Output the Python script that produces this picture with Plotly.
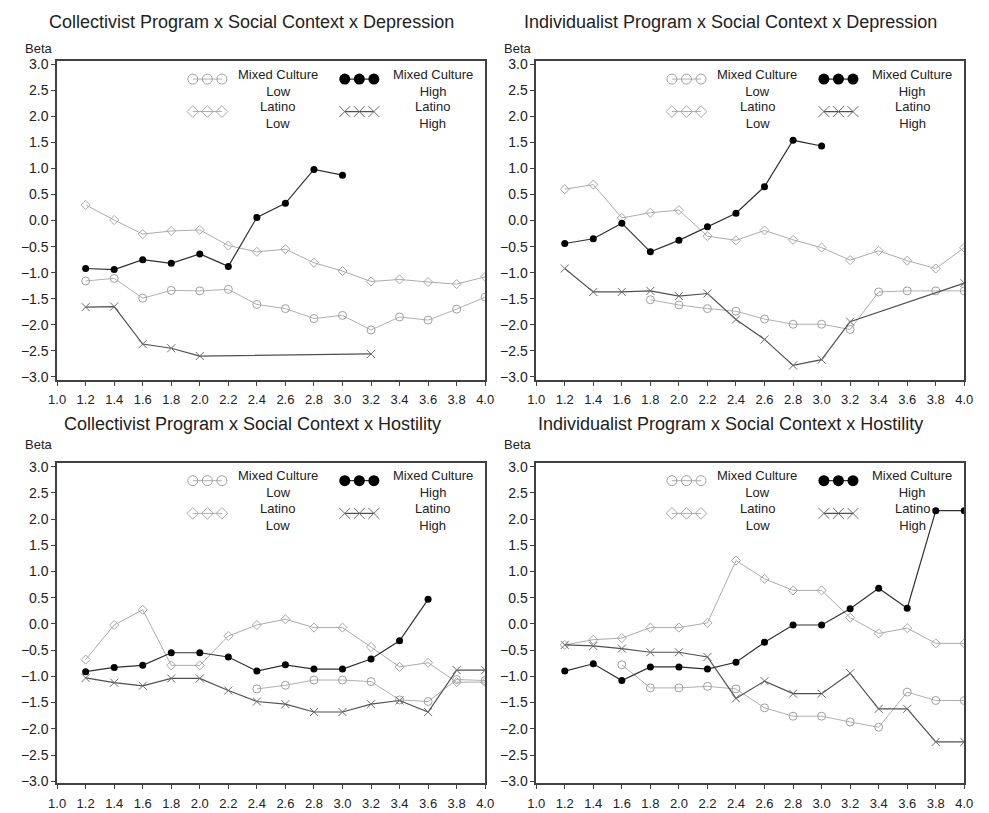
import plotly.graph_objects as go

# ---------------- data ----------------
X_VALUES = [1.2, 1.4, 1.6, 1.8, 2.0, 2.2, 2.4, 2.6, 2.8, 3.0, 3.2, 3.4, 3.6, 3.8, 4.0]
X_TICKS = [1.0, 1.2, 1.4, 1.6, 1.8, 2.0, 2.2, 2.4, 2.6, 2.8, 3.0, 3.2, 3.4, 3.6, 3.8, 4.0]
Y_TICKS = [-3.0, -2.5, -2.0, -1.5, -1.0, -0.5, 0.0, 0.5, 1.0, 1.5, 2.0, 2.5, 3.0]

TITLES = [
    "Collectivist Program x Social Context x Depression",
    "Individualist Program x Social Context x Depression",
    "Collectivist Program x Social Context x Hostility",
    "Individualist Program x Social Context x Hostility",
]
SERIES_NAMES = ["Mixed Culture<br>Low", "Latino<br>Low", "Mixed Culture<br>High", "Latino<br>High"]

# Collectivist x Depression
CD_mixed_low = [-1.16, -1.11, -1.49, -1.34, -1.35, -1.32, -1.61, -1.69, -1.88, -1.82, -2.10, -1.85, -1.91, -1.70, -1.47]
CD_latino_low = [0.30, 0.01, -0.26, -0.20, -0.18, -0.48, -0.60, -0.55, -0.81, -0.97, -1.17, -1.13, -1.18, -1.22, -1.08]
CD_mixed_high = [-0.92, -0.94, -0.75, -0.82, -0.64, -0.88, 0.06, 0.33, 0.98, 0.87, None, None, None, None, None]
CD_latino_high = [-1.66, -1.65, -2.37, -2.45, -2.60, None, None, None, None, None, -2.56, None, None, None, None]

# Individualist x Depression
ID_mixed_low = [None, None, None, -1.52, -1.62, -1.69, -1.74, -1.89, -1.99, -1.99, -2.09, -1.37, -1.35, -1.35, -1.35]
ID_latino_low = [0.60, 0.69, 0.05, 0.15, 0.20, -0.30, -0.38, -0.19, -0.37, -0.52, -0.76, -0.58, -0.77, -0.92, -0.52]
ID_mixed_high = [-0.44, -0.35, -0.05, -0.60, -0.38, -0.12, 0.14, 0.65, 1.54, 1.43, None, None, None, None, None]
ID_latino_high = [-0.92, -1.37, -1.37, -1.35, -1.45, -1.40, -1.90, -2.28, -2.78, -2.67, -1.94, None, None, None, -1.20]

# Collectivist x Hostility
CH_mixed_low = [None, None, None, None, None, None, -1.24, -1.17, -1.07, -1.07, -1.10, -1.45, -1.48, -1.06, -1.08]
CH_latino_low = [-0.68, -0.02, 0.27, -0.79, -0.79, -0.23, -0.02, 0.09, -0.07, -0.07, -0.44, -0.82, -0.74, -1.11, -1.11]
CH_mixed_high = [-0.91, -0.83, -0.79, -0.55, -0.55, -0.63, -0.90, -0.78, -0.86, -0.86, -0.67, -0.32, 0.47, None, None]
CH_latino_high = [-1.03, -1.12, -1.18, -1.04, -1.04, -1.27, -1.48, -1.53, -1.68, -1.68, -1.53, -1.46, -1.68, -0.88, -0.88]

# Individualist x Hostility
IH_mixed_low = [None, None, -0.78, -1.22, -1.22, -1.19, -1.24, -1.60, -1.76, -1.76, -1.87, -1.97, -1.30, -1.46, -1.46]
IH_latino_low = [-0.40, -0.30, -0.27, -0.07, -0.07, 0.02, 1.21, 0.86, 0.64, 0.64, 0.12, -0.18, -0.08, -0.37, -0.37]
IH_mixed_high = [-0.90, -0.76, -1.08, -0.82, -0.82, -0.86, -0.73, -0.35, -0.02, -0.02, 0.29, 0.68, 0.30, 2.16, 2.16]
IH_latino_high = [-0.40, -0.42, -0.47, -0.54, -0.54, -0.63, -1.42, -1.09, -1.33, -1.33, -0.94, -1.62, -1.62, -2.25, -2.25]

PANELS = [
    [CD_mixed_low, CD_latino_low, CD_mixed_high, CD_latino_high],
    [ID_mixed_low, ID_latino_low, ID_mixed_high, ID_latino_high],
    [CH_mixed_low, CH_latino_low, CH_mixed_high, CH_latino_high],
    [IH_mixed_low, IH_latino_low, IH_mixed_high, IH_latino_high],
]

# ---------------- styles ----------------
W, H = 989, 813
FONT = "Liberation Sans, Arial, sans-serif"
STYLES = [
    dict(line=dict(color="#b0b0b0", width=1),
         marker=dict(symbol="circle-open", size=8, color="#a0a0a0", line=dict(width=1))),
    dict(line=dict(color="#ababab", width=1),
         marker=dict(symbol="diamond-open", size=7, color="#a8a8a8", line=dict(width=1))),
    dict(line=dict(color="#303030", width=1.2),
         marker=dict(symbol="circle", size=7, color="#000000")),
    dict(line=dict(color="#505050", width=1.2),
         marker=dict(symbol="x-thin-open", size=8, color="#6a6a6a", line=dict(width=1, color="#6a6a6a"))),
]
LEGEND_MARKER_SIZE = [10, 9, 11, 11]
DRAW_ORDER = [0, 1, 3, 2]

# pixel boxes of plot areas (left, right, top, bottom)
BOXES = [(49, 485, 57, 380), (537, 973, 57, 380), (49, 485, 464, 789), (537, 973, 464, 789)]
Y_RANGES = [(-3.057, 3.057), (-3.057, 3.057), (-3.04, 3.075), (-3.04, 3.075)]
TITLE_POS = [(247, 17), (735, 17), (248, 425), (735, 425)]
BETA_POS = [(14, 44), (502, 44), (14, 446), (502, 446)]

# legend layout in axis-domain fractions
LEG_X = [0.317, 0.317, 0.672, 0.672]
LEG_DX = 0.034
LEG_Y = [0.944, 0.842, 0.944, 0.842]
LEG_TXT_X = [0.516, 0.516, 0.878, 0.878]
LEG_TXT_Y = [0.933, 0.830, 0.933, 0.830]

fig = go.Figure()
layout = dict(
    width=W, height=H, margin=dict(l=0, r=0, t=0, b=0),
    paper_bgcolor="white", plot_bgcolor="white", showlegend=False,
    font=dict(family=FONT, color="#222222"),
)
annotations = []

for p in range(4):
    L, R, T, B = BOXES[p]
    xd = [L / W, R / W]
    yd = [1 - B / H, 1 - T / H]
    ax = "" if p == 0 else str(p + 1)
    ox = str(p + 5)
    axis_common = dict(showline=True, mirror=True, linecolor="#404040", linewidth=1.5,
                       ticks="outside", ticklen=4, tickcolor="#404040", tickwidth=1,
                       showgrid=False, zeroline=False)
    layout["xaxis" + ax] = dict(domain=xd, range=[1.0, 4.0], tickvals=X_TICKS, tickformat=".1f",
                                anchor="y" + ax, tickfont=dict(size=13, family=FONT, color="#222"),
                                ticklabelstandoff=3, **axis_common)
    layout["yaxis" + ax] = dict(domain=yd, range=list(Y_RANGES[p]), tickvals=Y_TICKS, tickformat=".1f",
                                anchor="x" + ax, tickfont=dict(size=14, family=FONT, color="#222"),
                                **axis_common)
    # overlay axes for legend glyphs
    layout["xaxis" + ox] = dict(overlaying="x" + ax, range=[0, 1], visible=False, anchor="y" + ox)
    layout["yaxis" + ox] = dict(overlaying="y" + ax, range=[0, 1], visible=False, anchor="x" + ox)

    for s in DRAW_ORDER:
        st = STYLES[s]
        fig.add_trace(go.Scatter(x=X_VALUES, y=PANELS[p][s], mode="lines+markers",
                                 connectgaps=True, line=st["line"], marker=st["marker"],
                                 xaxis="x" + ax, yaxis="y" + ax, hoverinfo="skip"))
    # legend glyphs
    for s in range(4):
        st = STYLES[s]
        mk = dict(st["marker"])
        mk["size"] = LEGEND_MARKER_SIZE[s]
        fig.add_trace(go.Scatter(x=[LEG_X[s], LEG_X[s] + LEG_DX, LEG_X[s] + 2 * LEG_DX],
                                 y=[LEG_Y[s]] * 3, mode="lines+markers", line=st["line"], marker=mk,
                                 xaxis="x" + ox, yaxis="y" + ox, hoverinfo="skip", cliponaxis=False))
        annotations.append(dict(text=SERIES_NAMES[s], xref="x" + ax + " domain", yref="y" + ax + " domain",
                                x=LEG_TXT_X[s], y=LEG_TXT_Y[s], showarrow=False, xanchor="center",
                                yanchor="middle", font=dict(size=13, family=FONT, color="#222"),
                                align="center"))
    # title
    tx, ty = TITLE_POS[p]
    annotations.append(dict(text=TITLES[p], xref="paper", yref="paper",
                            x=tx / W, y=1 - ty / H, showarrow=False,
                            xanchor="center", yanchor="middle",
                            font=dict(size=18, family=FONT, color="#222")))
    bx, by = BETA_POS[p]
    annotations.append(dict(text="Beta", xref="paper", yref="paper",
                            x=bx / W, y=1 - by / H, showarrow=False,
                            xanchor="left", yanchor="middle",
                            font=dict(size=13, family=FONT, color="#222")))

layout["annotations"] = annotations
fig.update_layout(**layout)
fig.write_html("out.html", config={"responsive": False, "displayModeBar": False},
               post_script="document.body.style.margin='0';document.body.style.overflow='hidden';")
